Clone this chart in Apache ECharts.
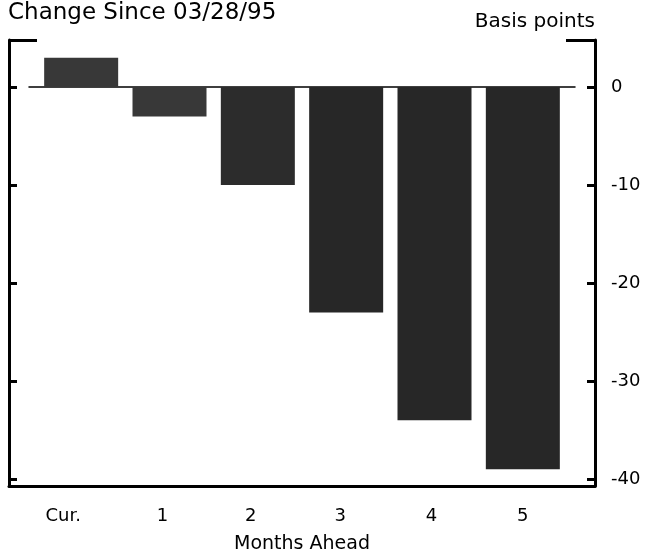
<!DOCTYPE html>
<html>
<head>
<meta charset="utf-8">
<script src="https://cdn.jsdelivr.net/npm/echarts@6/dist/echarts.min.js"></script>
<style>html,body{margin:0;padding:0;background:#fff;}#c{width:647px;height:558px;}</style>
</head>
<body>
<div id="c"></div>
<script>
var categories = ['Cur.', '1', '2', '3', '4', '5'];
var values = [3, -3, -10, -23, -34, -39];
var yTicks = [0, -10, -20, -30, -40];
var titleText = 'Change Since 03/28/95';
var unitText = 'Basis points';
var xName = 'Months Ahead';

var Y_MIN = -40.7, Y_MAX = 4.8;
var FONT = 'DejaVu Sans';
var labelShift = [36, 14, 14, 12, 6, 0];
var barColors = ['#383838', '#383838', '#2c2c2c', '#272727', '#272727', '#272727'];

var chart = echarts.init(document.getElementById('c'), null, {renderer: 'canvas'});
var gTop = 40, gBottom = 72;
function hiddenY(gi) {
  return {type: 'value', gridIndex: gi, min: Y_MIN, max: Y_MAX, show: false};
}
var option = {
  animation: false,
  backgroundColor: '#fff',
  title: [
    {text: titleText, left: 8, top: 2, padding: 0,
     textStyle: {fontFamily: FONT, fontSize: 23, fontWeight: 'normal', color: '#000'}},
    {text: unitText, right: 52, top: 12, padding: 0,
     textStyle: {fontFamily: FONT, fontSize: 20, fontWeight: 'normal', color: '#000'}}
  ],
  grid: [
    {left: 37, right: 80, top: gTop, bottom: gBottom, outerBoundsMode: 'none'},
    {left: 9, right: 52, top: gTop, bottom: gBottom, outerBoundsMode: 'none'},
    {left: 29, right: 72, top: gTop, bottom: gBottom, outerBoundsMode: 'none'}
  ],
  xAxis: [
    {type: 'category', gridIndex: 0, data: categories.map(function (c, i) {
        return {value: c, textStyle: {padding: [0, labelShift[i], 0, 0], fontFamily: FONT, fontSize: 18, color: '#000'}};
      }),
     axisLine: {show: false}, axisTick: {show: false},
     axisLabel: {margin: 21, fontFamily: FONT, fontSize: 18, color: '#000'},
     name: xName, nameLocation: 'middle', nameGap: 49,
     nameTextStyle: {fontFamily: FONT, fontSize: 19, color: '#000'}},
    {type: 'value', gridIndex: 1, min: 0, max: 1, position: 'bottom',
     axisLine: {show: true, onZero: false, lineStyle: {color: '#000', width: 3}},
     axisTick: {show: false}, axisLabel: {show: false}, splitLine: {show: false}},
    {type: 'value', gridIndex: 2, min: 0, max: 1,
     axisLine: {show: true, onZero: true, lineStyle: {color: '#000', width: 1.5}},
     axisTick: {show: false}, axisLabel: {show: false}, splitLine: {show: false}}
  ],
  yAxis: [
    hiddenY(0),
    {type: 'value', gridIndex: 1, min: Y_MIN, max: Y_MAX, position: 'left',
     axisLine: {show: true, onZero: false, lineStyle: {color: '#000', width: 3}},
     axisTick: {show: true, inside: true, length: 8, customValues: yTicks, lineStyle: {color: '#000', width: 3}},
     axisLabel: {show: false}, splitLine: {show: false}},
    {type: 'value', gridIndex: 1, min: Y_MIN, max: Y_MAX, position: 'right',
     axisLine: {show: true, onZero: false, lineStyle: {color: '#000', width: 3}},
     axisTick: {show: true, inside: true, length: 8, customValues: yTicks, lineStyle: {color: '#000', width: 3}},
     axisLabel: {show: true, customValues: yTicks, margin: 16, fontFamily: FONT, fontSize: 18, color: '#000'},
     splitLine: {show: false}},
    {type: 'value', gridIndex: 1, min: Y_MIN, max: Y_MAX, position: 'left',
     axisLine: {show: false},
     axisTick: {show: true, inside: true, length: 28, customValues: [Y_MAX], lineStyle: {color: '#000', width: 3}},
     axisLabel: {show: false}, splitLine: {show: false}},
    {type: 'value', gridIndex: 1, min: Y_MIN, max: Y_MAX, position: 'right',
     axisLine: {show: false},
     axisTick: {show: true, inside: true, length: 29, customValues: [Y_MAX], lineStyle: {color: '#000', width: 3}},
     axisLabel: {show: false}, splitLine: {show: false}},
    hiddenY(2)
  ],
  series: [{
    type: 'bar', xAxisIndex: 0, yAxisIndex: 0, barWidth: 74,
    data: values.map(function (v, i) { return {value: v, itemStyle: {color: barColors[i]}}; })
  }]
};
chart.setOption(option);
</script>
</body>
</html>
